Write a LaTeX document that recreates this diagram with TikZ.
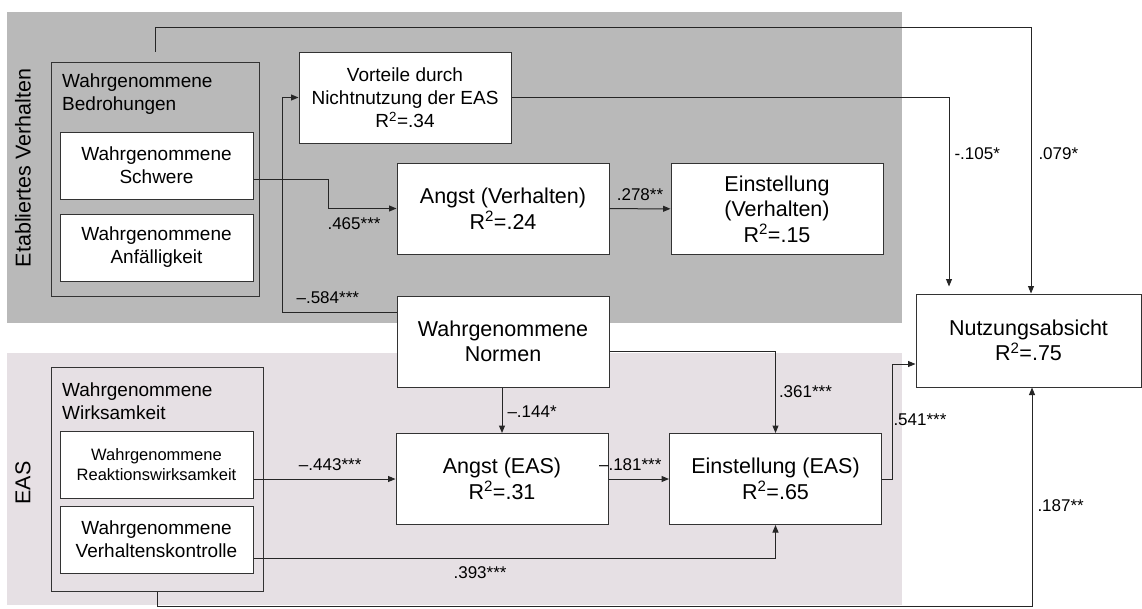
\documentclass[tikz,border=0pt]{standalone}
\usepackage{fontspec}
\setmainfont{Liberation Sans}
\usetikzlibrary{arrows.meta}

\definecolor{bgtop}{RGB}{185,185,185}
\definecolor{bgbot}{RGB}{230,224,228}

\tikzset{
  boxline/.style={draw=black!80, line width=1pt, inner sep=0pt},
  mainbox/.style={boxline, fill=white, align=center, minimum width=212pt, minimum height=91pt, font=\fontsize{21.5}{25.5}\selectfont},
  subbox/.style={boxline, fill=white, align=center, minimum width=193pt, minimum height=67pt, font=\fontsize{19}{23}\selectfont},
  heading/.style={align=left, inner sep=0pt, font=\fontsize{19}{23}\selectfont},
  coef/.style={font=\fontsize{17}{20}\selectfont, inner sep=3pt},
  arrow/.style={->, line width=1pt, draw=black!85},
}

\begin{document}
\begin{tikzpicture}[x=1pt, y=-1pt, >={Triangle[length=7.5pt, width=6pt]}]
  \useasboundingbox (0,0) rectangle (1142,608);
  % Hintergrund
  \fill[bgtop] (7,12) rectangle (902,323);
  \fill[bgbot] (7,353) rectangle (902,605);
  \node[rotate=90, font=\fontsize{21.5}{25}\selectfont] (etab) at (23,168) {Etabliertes Verhalten};
  \node[rotate=90, font=\fontsize{21.5}{25}\selectfont] (eas) at (23,483) {EAS};

  % Bedrohungen
  \node[boxline, minimum width=208pt, minimum height=234pt] (bedro) at (155,179) {};
  \node[heading, anchor=north west] (bedrotxt) at (62,74) {Wahrgenommene\\Bedrohungen};
  \node[subbox] (schwere) at (156.5,165.5) {Wahrgenommene\\Schwere};
  \node[subbox] (anfaell) at (156.5,247.5) {Wahrgenommene\\Anfälligkeit};

  % Wirksamkeit
  \node[boxline, minimum width=212pt, minimum height=224pt] (wirks) at (157,479) {};
  \node[heading, anchor=north west] (wirkstxt) at (62,383) {Wahrgenommene\\Wirksamkeit};
  \node[subbox, font=\fontsize{16.5}{20}\selectfont] (reakt) at (156.5,464.5) {Wahrgenommene\\Reaktionswirksamkeit};
  \node[subbox] (kontr) at (156.5,539.5) {Wahrgenommene\\Verhaltenskontrolle};

  % Konstrukte
  \node[mainbox, font=\fontsize{19}{23}\selectfont] (vorteile) at (405,97.5) {Vorteile durch\\Nichtnutzung der EAS\\R\textsuperscript{2}=.34};
  \node[mainbox] (angstV) at (503,208.5) {Angst (Verhalten)\\R\textsuperscript{2}=.24};
  \node[mainbox] (einstV) at (777,209) {Einstellung\\(Verhalten)\\R\textsuperscript{2}=.15};
  \node[mainbox] (normen) at (503,341.5) {Wahrgenommene\\Normen};
  \node[mainbox] (angstE) at (502,479) {Angst (EAS)\\R\textsuperscript{2}=.31};
  \node[mainbox] (einstE) at (775.5,479) {Einstellung (EAS)\\R\textsuperscript{2}=.65};
  \node[mainbox, minimum width=225pt, minimum height=93pt] (nutz) at (1028.5,340.5) {Nutzungsabsicht\\R\textsuperscript{2}=.75};

  % Knickpunkte
  \coordinate (topbend) at (1031,27);
  \coordinate (botbend) at (1032,606.5);
  \coordinate (b1) at (328,179);
  \coordinate (b2) at (282,312);
  \coordinate (b3) at (949,97);
  \coordinate (b4) at (775.5,351);
  \coordinate (b5) at (775.5,558);
  \coordinate (b6) at (892,364);

  % Pfade
  \draw[arrow] ([yshift=10pt]bedro.north) |- (topbend) -- node[coef, right=4pt, pos=0.476] {.079*} (topbend |- nutz.north);
  \draw[arrow] (schwere.east |- b1) -- (b1) |- node[coef, below=6pt, pos=0.69] {.465***} (angstV.west);
  \draw[arrow] (normen.west |- b2) -- node[coef, above=5pt, pos=0.6] {–.584***} (b2) |- (vorteile.west);
  \draw[arrow] (angstV) -- node[coef, above=5pt] {.278**} (einstV);
  \draw[arrow, shorten >=7pt] (vorteile.east |- b3) -- (b3) -- node[coef, right=2pt, pos=0.29] {-.105*} (b3 |- nutz.north);
  \draw[arrow] (normen.east |- b4) -- (b4) -- node[coef, right, pos=0.49] {.361***} (einstE.north);
  \draw[arrow] (normen.south -| angstE.north) -- node[coef, right=2pt, pos=0.52] {–.144*} (angstE.north);
  \draw[arrow] (reakt.east |- angstE.west) -- node[coef, above=5pt, pos=0.54] {–.443***} (angstE.west);
  \draw[arrow] (angstE) -- node[coef, above=5pt, pos=0.36] {–.181***} (einstE);
  \draw[arrow] (kontr.east |- b5) -- node[coef, below=5pt, pos=0.434] {.393***} (b5) -- (einstE.south);
  \draw[arrow] (einstE.east) -| node[coef, right=-2pt, pos=0.757] {.541***} (b6) -- (nutz.west |- b6);
  \draw[arrow] (wirks.south) |- (botbend) -- node[coef, right=2pt, pos=0.46] {.187**} (botbend |- nutz.south);
\end{tikzpicture}
\end{document}
